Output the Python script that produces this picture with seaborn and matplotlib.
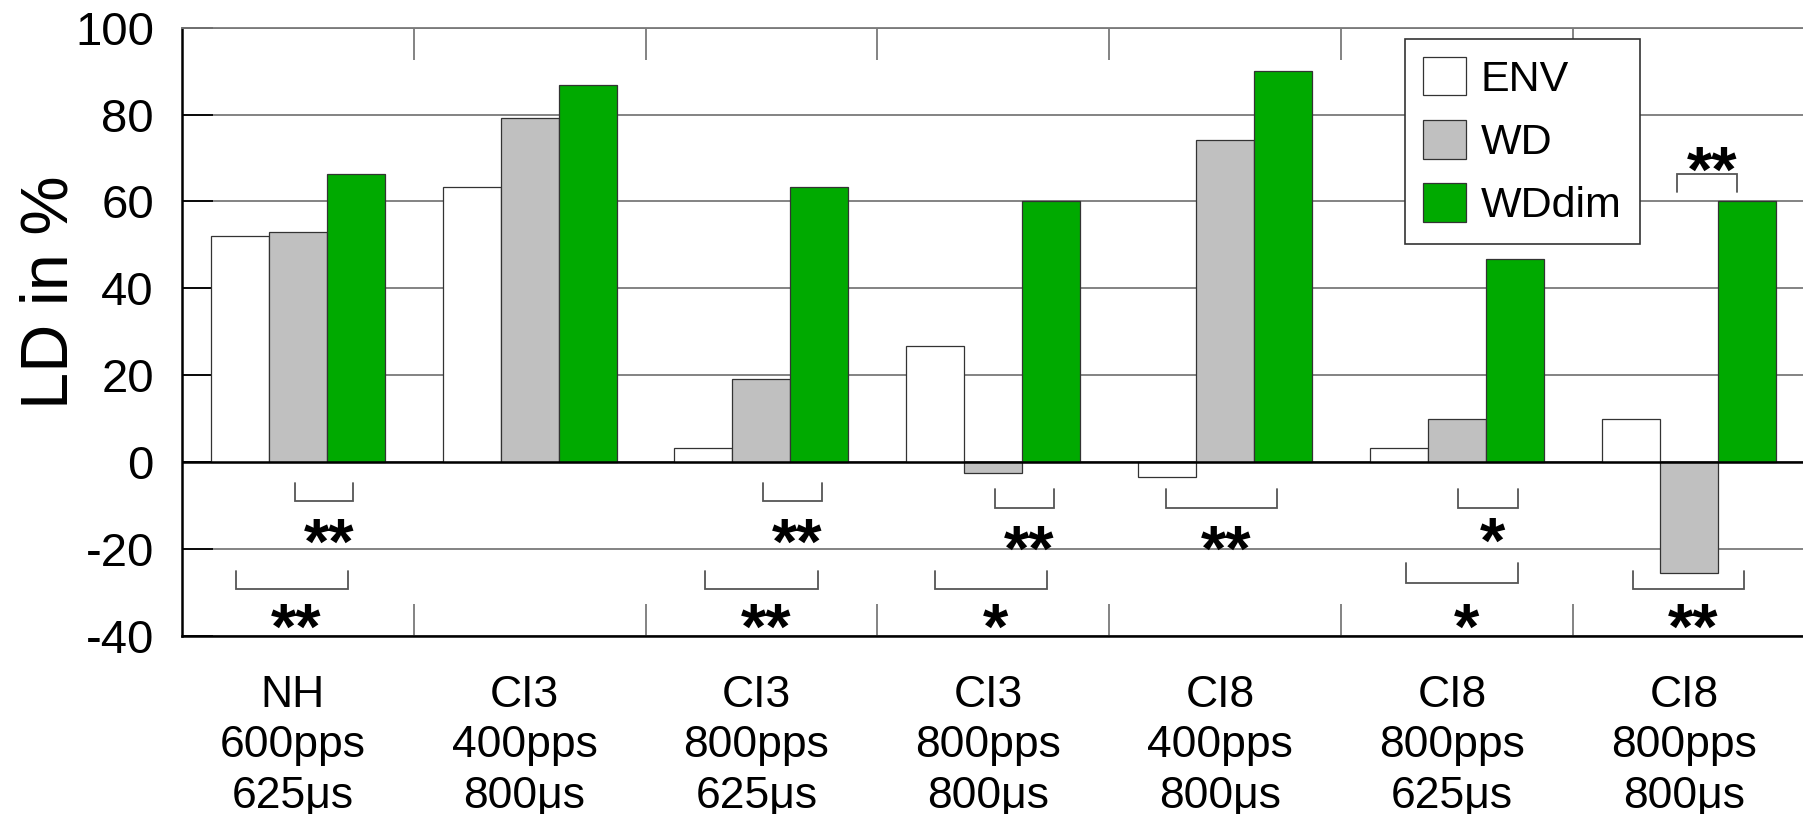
import matplotlib
matplotlib.use("Agg")
import matplotlib.pyplot as plt
import matplotlib.transforms as mtransforms
import numpy as np
import pandas as pd
import seaborn as sns

# ---- data ----
conditions = [
    "NH\n600pps\n625μs",
    "CI3\n400pps\n800μs",
    "CI3\n800pps\n625μs",
    "CI3\n800pps\n800μs",
    "CI8\n400pps\n800μs",
    "CI8\n800pps\n625μs",
    "CI8\n800pps\n800μs",
]
methods = ["ENV", "WD", "WDdim"]
env_values = [52.0, 63.3, 3.3, 26.7, -3.3, 3.3, 10.0]
wd_values = [53.0, 79.2, 19.2, -2.5, 74.2, 10.0, -25.4]
wddim_values = [66.3, 86.7, 63.3, 60.0, 90.0, 46.7, 60.0]
ytick_values = [-40, -20, 0, 20, 40, 60, 80, 100]
ytick_labels = ["-40", "-20", "0", "20", "40", "60", "80", "100"]
bar_colors = ["#ffffff", "#c0c0c0", "#00aa00"]

# significance brackets:
# (condition index, from bar, to bar, y at bar side, y of crossbar, stars, y of stars)
brackets = [
    (0, 0.95, 1.96, -4.8, -9.0, "**", -15.6),
    (0, -0.06, 1.86, -25.1, -29.1, "**", -35.2),
    (2, 1.02, 2.05, -4.8, -9.0, "**", -15.6),
    (2, 0.03, 1.97, -25.1, -29.1, "**", -35.2),
    (3, 1.02, 2.05, -6.1, -10.6, "**", -17.2),
    (3, 0.0, 1.93, -25.1, -29.1, "*", -35.2),
    (4, -0.03, 1.89, -6.1, -10.6, "**", -17.2),
    (5, 1.02, 2.05, -6.1, -10.6, "*", -15.3),
    (5, 0.11, 2.05, -23.3, -27.8, "*", -35.2),
    (6, 0.8, 1.83, 62.1, 66.2, "**", 70.0),
    (6, 0.03, 1.95, -25.1, -29.1, "**", -35.2),
]

df = pd.DataFrame({
    "condition": np.repeat(conditions, len(methods)),
    "method": methods * len(conditions),
    "LD": np.column_stack([env_values, wd_values, wddim_values]).ravel(),
})

# ---- style ----
sns.set_theme(style="white")
plt.rcParams["font.family"] = ["Liberation Sans", "DejaVu Sans"]
plt.rcParams["axes.unicode_minus"] = False
for key in ("text.color", "axes.labelcolor", "xtick.color", "ytick.color"):
    plt.rcParams[key] = "black"

W, H, DPI = 1803, 814, 100
fig = plt.figure(figsize=(W / DPI, H / DPI), dpi=DPI)
ax = fig.add_axes([181.7 / W, 178.0 / H, (1805 - 181.7) / W, 608.4 / H])

bar_width = 0.75
sns.barplot(
    data=df, x="condition", y="LD", hue="method",
    order=conditions, hue_order=methods, palette=bar_colors, saturation=1,
    width=bar_width, edgecolor="#333333", linewidth=0.9,
    errorbar=None, ax=ax, zorder=2,
)

ax.set_xlim(-0.5, len(conditions) - 0.5)
ax.set_ylim(-40, 100)
ax.set_yticks(ytick_values)
ax.set_yticklabels(ytick_labels)

# grid and zero line
ax.set_axisbelow(True)
ax.yaxis.grid(True, color="#7a7a7a", linewidth=1.3)
ax.axhline(0, color="black", linewidth=1.8, zorder=3)

for side in ("left", "bottom"):
    ax.spines[side].set_color("black")
    ax.spines[side].set_linewidth(1.8)
ax.spines["top"].set_color("#7a7a7a")
ax.spines["top"].set_linewidth(1.3)
ax.spines["right"].set_visible(False)

ax.tick_params(axis="y", which="major", direction="in", length=22, width=1.3,
               color="black", labelcolor="black", labelsize=34, pad=20,
               left=True, right=False)
ax.tick_params(axis="x", which="major", length=0, labelsize=32, pad=28,
               labelcolor="black")
ax.set_xticks(np.arange(len(conditions)))
ax.set_xticklabels(conditions, linespacing=1.3)
shift = mtransforms.ScaledTranslation(-5 / DPI, 0, fig.dpi_scale_trans)
for lbl in ax.get_xticklabels():
    lbl.set_transform(lbl.get_transform() + shift)
ax.set_xticks(np.arange(len(conditions) - 1) + 0.5, minor=True)
ax.tick_params(axis="x", which="minor", direction="in", length=23, width=1.3,
               color="#7a7a7a", top=True, bottom=True)

ax.set_xlabel("")
ax.set_ylabel("LD in %", fontsize=48, color="black")
ax.yaxis.set_label_coords(-0.0615, 0.5646)

# significance brackets
step = bar_width / len(methods)
for g, b0, b1, y_near, y_far, stars, y_txt in brackets:
    x0 = g + (b0 - 1) * step
    x1 = g + (b1 - 1) * step
    ax.plot([x0, x0, x1, x1], [y_near, y_far, y_far, y_near],
            color="#555555", linewidth=1.3, zorder=4, solid_joinstyle="miter")
    ax.annotate(stars, xy=((x0 + x1) / 2 + 0.02, y_txt), xytext=(0, -12),
                textcoords="offset points", ha="center", va="center",
                fontsize=47, fontweight="bold", color="black", zorder=5)

# legend
handles, labels = ax.get_legend_handles_labels()
leg = ax.legend(
    handles, labels, loc="upper left", bbox_to_anchor=(0.7533, 0.9818),
    borderaxespad=0, fontsize=31, frameon=True, fancybox=False,
    framealpha=1, edgecolor="#333333", handlelength=1.0, handleheight=1.0,
    handletextpad=0.35, labelspacing=0.47, borderpad=0.42,
)
leg.get_frame().set_linewidth(1.2)
for t in leg.get_texts():
    t.set_color("black")

fig.savefig("out.png", dpi=DPI)
